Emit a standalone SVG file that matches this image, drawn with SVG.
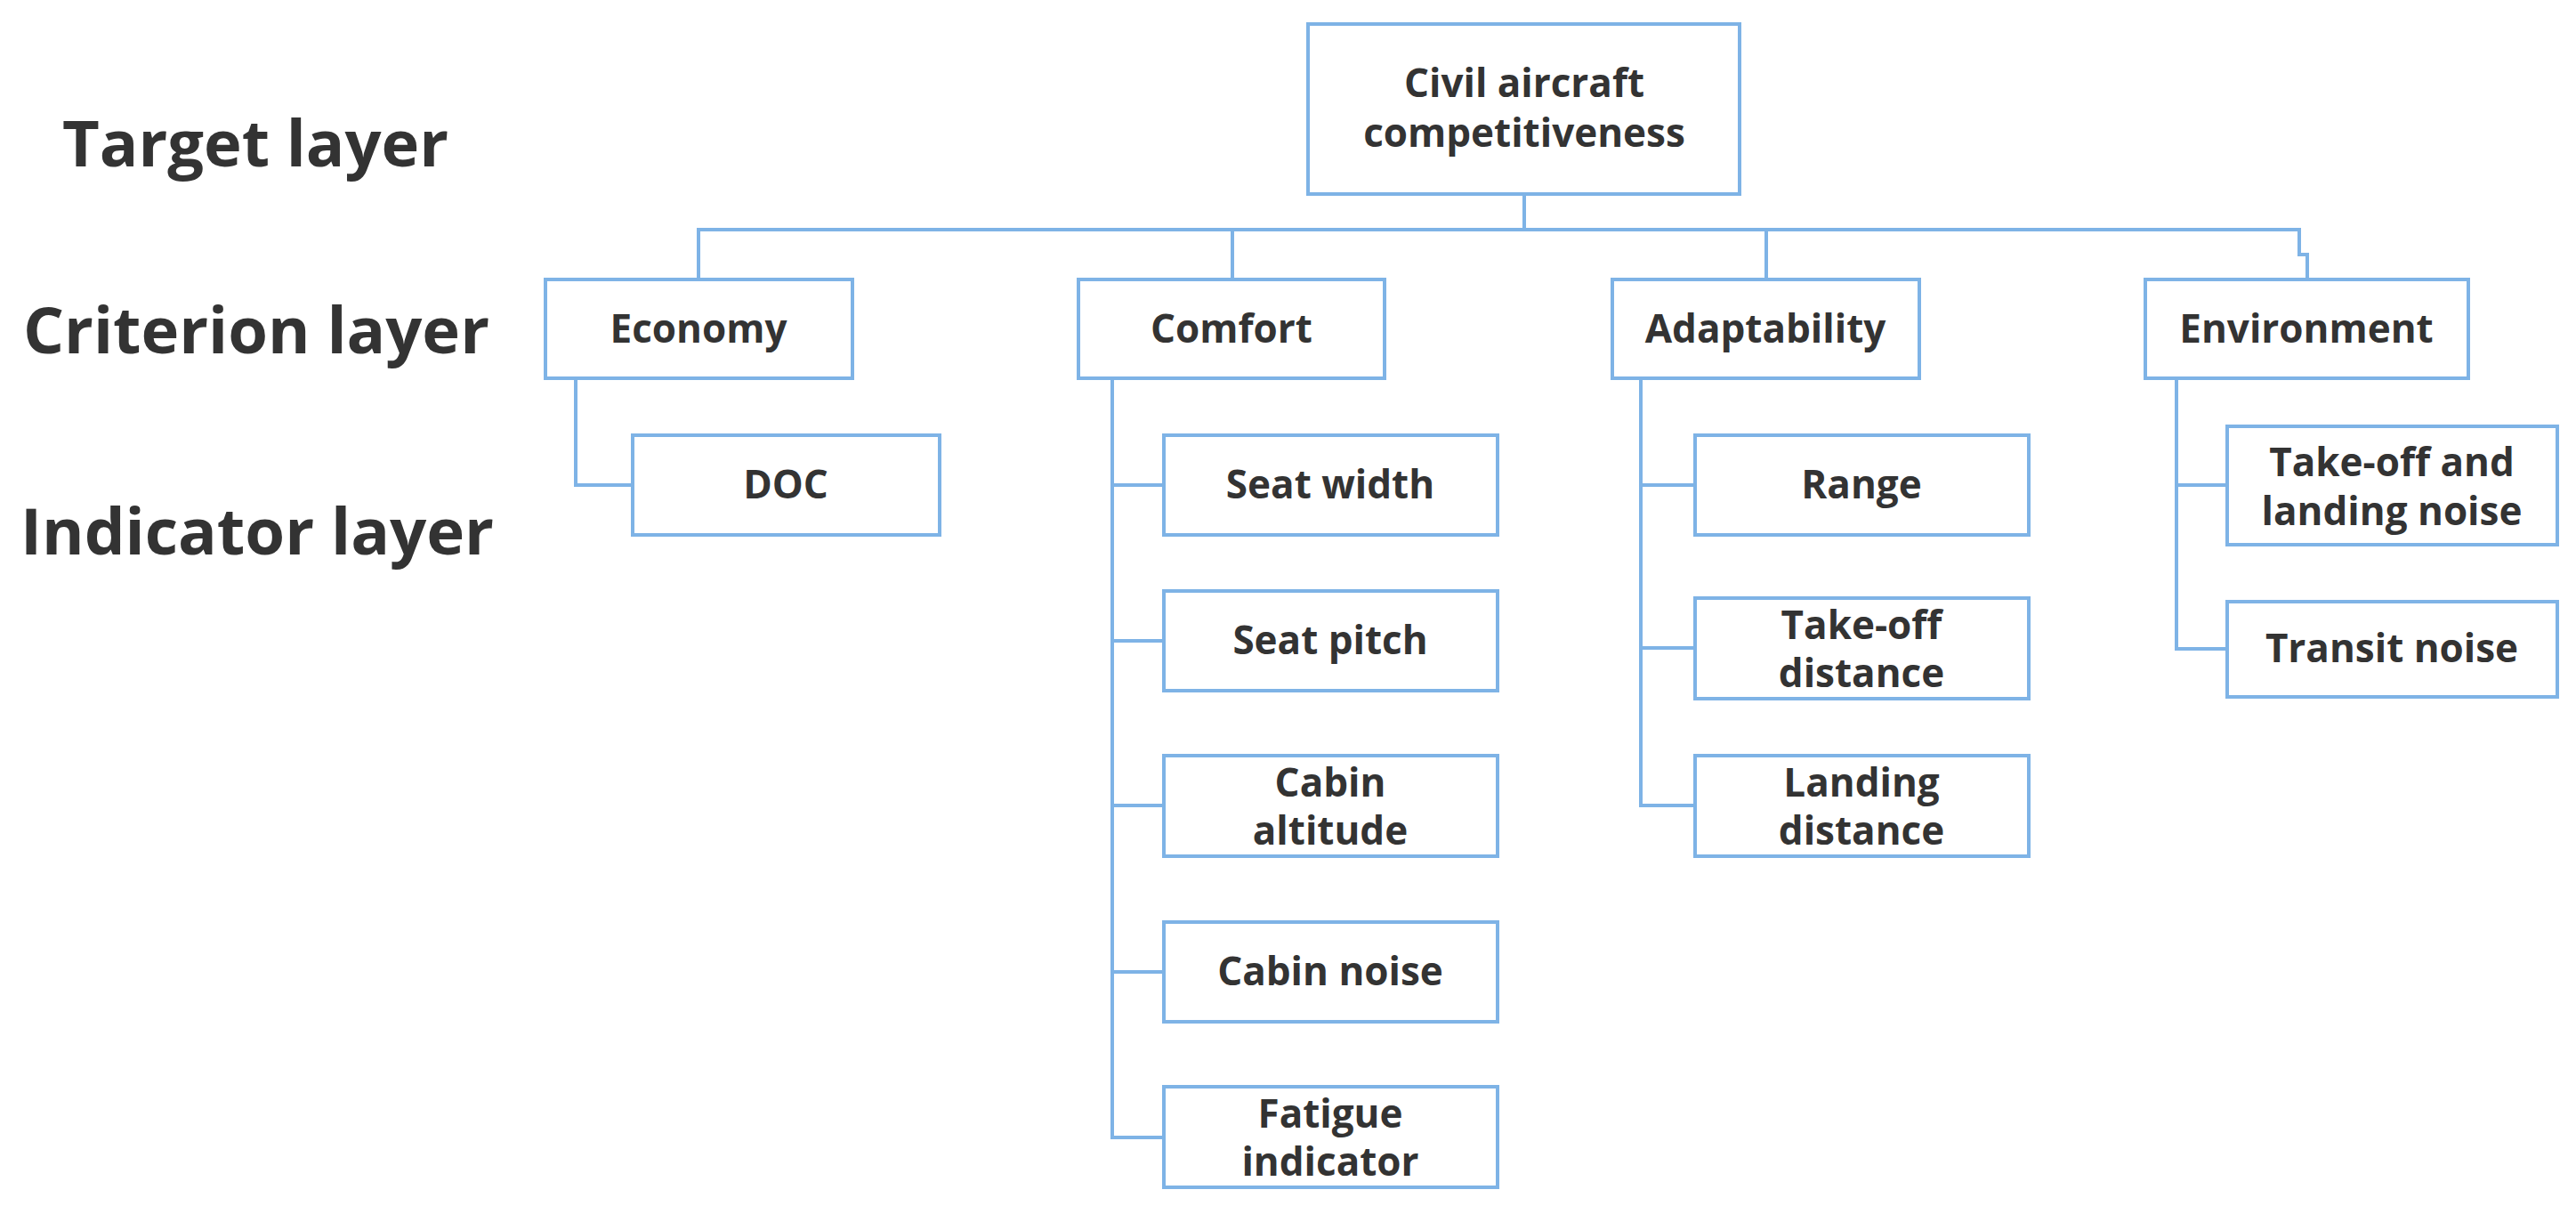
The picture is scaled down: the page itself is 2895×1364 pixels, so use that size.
<svg xmlns="http://www.w3.org/2000/svg" width="2895" height="1364" viewBox="0 0 2895 1364">
<style>
rect{fill:#fff;stroke:#7eb3e6;stroke-width:4}
.c path{fill:none;stroke:#7eb3e6;stroke-width:4}
text{font-family:"Open Sans","Liberation Sans",sans-serif;font-weight:bold;fill:#333;text-anchor:middle}
.n{font-size:44px}
.l{font-size:72px;text-anchor:start}
</style>
<rect x="0" y="0" width="2895" height="1364" style="fill:#fff;stroke:none"/>
<g id="labels">
<text class="l" x="70" y="187" textLength="434" lengthAdjust="spacingAndGlyphs">Target layer</text>
<text class="l" x="26" y="397" textLength="524" lengthAdjust="spacingAndGlyphs">Criterion layer</text>
<text class="l" x="23" y="623" textLength="532" lengthAdjust="spacingAndGlyphs">Indicator layer</text>
</g>
<g class="c" id="connectors">
<path d="M1713 218V258M785 314V258H2584V286H2593V314M1385 258V314M1985 258V314"/>
<path d="M647 425V545H711"/>
<path d="M1250 425V1278H1308M1250 545H1308M1250 720H1308M1250 905H1308M1250 1092H1308"/>
<path d="M1844 425V905H1905M1844 545H1905M1844 728H1905"/>
<path d="M2446 425V729H2503M2446 545H2503"/>
</g>
<g id="root"><rect x="1470" y="27" width="485" height="191"/><text class="n" x="1713" y="109">Civil aircraft</text><text class="n" x="1713" y="165">competitiveness</text></g>
<g id="economy"><rect x="613" y="314" width="345" height="111"/><text class="n" x="785" y="385">Economy</text></g>
<g id="comfort"><rect x="1212" y="314" width="344" height="111"/><text class="n" x="1384" y="385">Comfort</text></g>
<g id="adaptability"><rect x="1812" y="314" width="345" height="111"/><text class="n" x="1984" y="385">Adaptability</text></g>
<g id="environment"><rect x="2411" y="314" width="363" height="111"/><text class="n" x="2592" y="385">Environment</text></g>
<g id="doc"><rect x="711" y="489" width="345" height="112"/><text class="n" x="883" y="560">DOC</text></g>
<g id="seatwidth"><rect x="1308" y="489" width="375" height="112"/><text class="n" x="1495" y="560">Seat width</text></g>
<g id="seatpitch"><rect x="1308" y="664" width="375" height="112"/><text class="n" x="1495" y="735">Seat pitch</text></g>
<g id="cabinalt"><rect x="1308" y="849" width="375" height="113"/><text class="n" x="1495" y="895">Cabin</text><text class="n" x="1495" y="949">altitude</text></g>
<g id="cabinnoise"><rect x="1308" y="1036" width="375" height="112"/><text class="n" x="1495" y="1107">Cabin noise</text></g>
<g id="fatigue"><rect x="1308" y="1221" width="375" height="113"/><text class="n" x="1495" y="1267">Fatigue</text><text class="n" x="1495" y="1321">indicator</text></g>
<g id="range"><rect x="1905" y="489" width="375" height="112"/><text class="n" x="2092" y="560">Range</text></g>
<g id="takeoffdist"><rect x="1905" y="672" width="375" height="113"/><text class="n" x="2092" y="718">Take-off</text><text class="n" x="2092" y="772">distance</text></g>
<g id="landingdist"><rect x="1905" y="849" width="375" height="113"/><text class="n" x="2092" y="895">Landing</text><text class="n" x="2092" y="949">distance</text></g>
<g id="tlnoise"><rect x="2503" y="479" width="371" height="133"/><text class="n" x="2688" y="535">Take-off and</text><text class="n" x="2688" y="590">landing noise</text></g>
<g id="transit"><rect x="2503" y="676" width="371" height="107"/><text class="n" x="2688" y="744">Transit noise</text></g>
</svg>
